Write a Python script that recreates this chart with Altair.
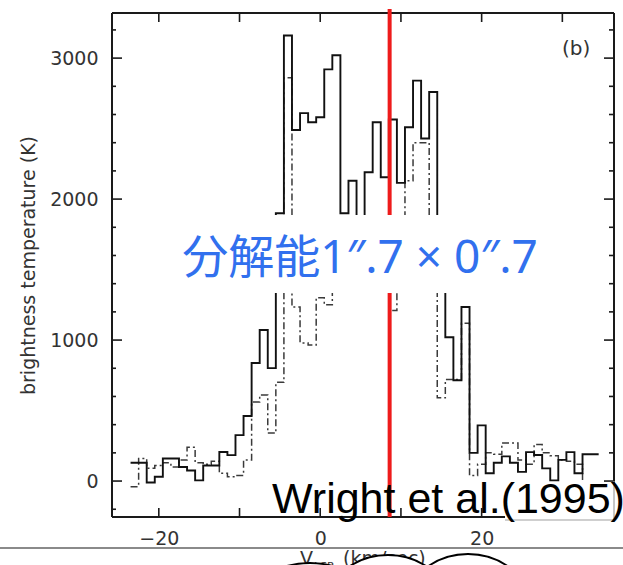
import altair as alt
import pandas as pd

# ---- spectrum: 1 km/s channels centred on integer LSR velocities ----
CHANNEL_WIDTH = 1.0
velocity = list(range(-23, 35))

solid_K = [130, 130, -10, 30, 160, 160, 100, 75, 5, 110,
           110, 206, 184, 326, 461, 837, 1071, 801, 1900, 3160,
           2490, 2610, 2545, 2580, 2920, 3020, 1900, 2130, 1800, 2190,
           2545, 2155, 2565, 2115, 2510, 2840, 2430, 2760, 1600, 1020,
           715, 1235, 200, 395, 55, 130, 175, 130, 65, 205,
           185, 90, 5, 150, 205, 55, 190, 190]

dashdot_K = [-40, 160, 90, 110, 130, 100, 150, 240, 130, 120,
             140, 55, 30, 40, 150, 560, 610, 340, 700, 2860,
             1234, 980, 965, 1300, 1250, 1500, 1600, 1500, 1700, 1550,
             1650, 1400, 1210, 1700, 2130, 2400, 2400, 1500, 590, 720,
             720, 1120, 40, 120, 200, 190, 270, 270, 150, 120,
             260, 200, 180, 150, 140, 120, -20, -20]

marker_velocity = [8.6]

# ---- axes ----
V_DOMAIN = [-25.8, 36.4]
T_DOMAIN = [-255, 3320]
y_major = [0, 1000, 2000, 3000]
y_minor = [-200, 200, 400, 600, 800, 1200, 1400, 1600, 1800,
           2200, 2400, 2600, 2800, 3200]
x_major = [-20, -10, 0, 10, 20, 30]
x_labels = [-20, 0, 20]

W, H = 502, 504
FONT = "DejaVu Sans"
INK = "#333333"


def step_frame(values):
    half = CHANNEL_WIDTH / 2
    edges = [v - half for v in velocity] + [velocity[-1] + half]
    return pd.DataFrame({"v": edges, "T": list(values) + [values[-1]]})


one = pd.DataFrame({"k": [0]})
xs = alt.Scale(domain=V_DOMAIN, nice=False, zero=False)
ys = alt.Scale(domain=T_DOMAIN, nice=False, zero=False)

x_axis = alt.Axis(values=x_labels, format="d", ticks=False, tickSize=0,
                  domain=False, grid=False, labelPadding=12,
                  labelFont=FONT, labelFontSize=19, labelColor=INK,
                  labelFlush=False, title=None)
y_axis = alt.Axis(values=y_major, format="d", ticks=False, tickSize=0,
                  domain=False, grid=False, labelPadding=14,
                  labelFont=FONT, labelFontSize=19, labelColor=INK,
                  title="brightness temperature (K)", titleFont=FONT,
                  titleFontSize=19, titleFontWeight="normal",
                  titleColor=INK, titlePadding=11)

X = alt.X("v:Q", scale=xs, axis=x_axis)
Y = alt.Y("T:Q", scale=ys, axis=y_axis)

dashdot = alt.Chart(step_frame(dashdot_K)).mark_line(
    interpolate="step-after", color="#3a3a3a", strokeWidth=1.5,
    strokeDash=[7, 3, 2, 3]
).encode(x=X, y=Y)

solid = alt.Chart(step_frame(solid_K)).mark_line(
    interpolate="step-after", color="#111111", strokeWidth=1.9
).encode(x=X, y=Y)


def frame_rule(**enc):
    return alt.Chart(one).mark_rule(color="#1a1a1a", strokeWidth=2).encode(**enc)


frame = [
    frame_rule(x=alt.value(0), y=alt.value(0), y2=alt.value(H)),
    frame_rule(x=alt.value(W), y=alt.value(0), y2=alt.value(H)),
    frame_rule(y=alt.value(0), x=alt.value(0), x2=alt.value(W)),
    frame_rule(y=alt.value(H), x=alt.value(0), x2=alt.value(W)),
]


def y_ticks(values, x0, x1):
    return alt.Chart(pd.DataFrame({"T": values})).mark_rule(
        color="#1a1a1a", strokeWidth=1.6
    ).encode(y=Y, x=alt.value(x0), x2=alt.value(x1))


def x_ticks(y0, y1):
    return alt.Chart(pd.DataFrame({"v": x_major})).mark_rule(
        color="#1a1a1a", strokeWidth=1.6
    ).encode(x=X, y=alt.value(y0), y2=alt.value(y1))


ticks = [
    y_ticks(y_major, 0, 10), y_ticks(y_minor, 0, 4),
    y_ticks(y_major, W - 10, W), y_ticks(y_minor, W - 5, W),
    x_ticks(0, 9), x_ticks(H - 9, H),
]

panel_tag = alt.Chart(pd.DataFrame({"v": [31.7], "T": [3064], "t": ["(b)"]})).mark_text(
    font=FONT, fontSize=20, color=INK, baseline="middle", align="center"
).encode(x=X, y=Y, text="t:N")

marker = alt.Chart(pd.DataFrame({"v": marker_velocity})).mark_rule(
    color="#ee1b1b", strokeWidth=4
).encode(x=X, y=alt.value(-4), y2=alt.value(H))

# resolution note on a white panel
note_box = alt.Chart(one).mark_rect(fill="white", opacity=1).encode(
    x=alt.value(48), x2=alt.value(465), y=alt.value(202), y2=alt.value(280))
note_text = alt.Chart(one).mark_text(
    text="分解能1″.7 × 0″.7", font="Noto Sans, Noto Sans CJK JP",
    fontSize=46, color="#3170ee", align="center", baseline="alphabetic"
).encode(x=alt.value(248), y=alt.value(260))

# citation
cite_box = alt.Chart(one).mark_rect(fill="white", opacity=1).encode(
    x=alt.value(393), x2=alt.value(W + 1), y=alt.value(470), y2=alt.value(507))
cite_edges = [
    alt.Chart(one).mark_rule(color="#a0a0a0", strokeWidth=1.2).encode(
        x=alt.value(393), x2=alt.value(W), y=alt.value(507)),
    alt.Chart(one).mark_rule(color="#a0a0a0", strokeWidth=1.2).encode(
        x=alt.value(W), y=alt.value(468), y2=alt.value(507)),
]
cite_text = alt.Chart(one).mark_text(
    text="Wright et al.(1995)", font="Liberation Sans", fontSize=43,
    color="black", align="left", baseline="alphabetic"
).encode(x=alt.value(160), y=alt.value(500))

# lower edge: separator, axis title and outline shapes
separator = alt.Chart(one).mark_rule(color="#8a8a8a", strokeWidth=2).encode(
    x=alt.value(-112), x2=alt.value(W + 9), y=alt.value(535))
title_v = alt.Chart(one).mark_text(
    text="V", font=FONT, fontSize=19, color=INK, align="left", baseline="alphabetic"
).encode(x=alt.value(188), y=alt.value(552))
title_sub = alt.Chart(one).mark_text(
    text="LSR", font=FONT, fontSize=11, color=INK, align="left", baseline="alphabetic"
).encode(x=alt.value(202), y=alt.value(557))
title_unit = alt.Chart(one).mark_text(
    text="(km/sec)", font=FONT, fontSize=19, color=INK, align="left", baseline="alphabetic"
).encode(x=alt.value(231), y=alt.value(552))


def bubble(cx, cy, r):
    return alt.Chart(one).mark_point(
        shape="circle", filled=True, fill="white", stroke="black",
        strokeWidth=2, opacity=1, size=(2 * r) ** 2
    ).encode(x=alt.value(cx), y=alt.value(cy))


bubbles = [bubble(198, 640, 90), bubble(356, 611, 70), bubble(276, 612, 70)]

chart = alt.layer(
    dashdot, solid, *frame, *ticks, panel_tag, marker,
    note_box, note_text, cite_box, *cite_edges, cite_text,
    separator, title_v, title_sub, title_unit, *bubbles
).properties(
    width=W, height=H,
    padding={"left": 112, "top": 13, "right": 9, "bottom": 48},
    autosize=alt.AutoSizeParams(type="none"),
    background="white",
).configure_view(stroke="transparent", strokeWidth=0)

chart.save("out.html", embed_options={"renderer": "svg", "actions": False})
